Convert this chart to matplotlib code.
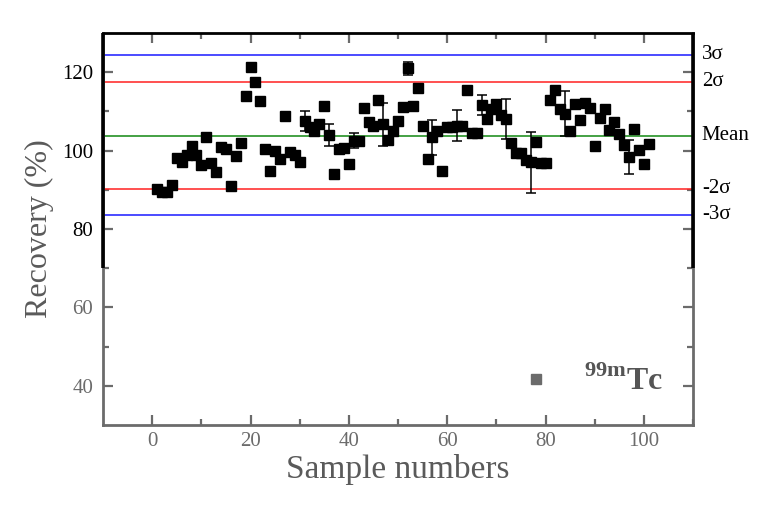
import matplotlib
matplotlib.use("Agg")
import matplotlib.pyplot as plt
from matplotlib.lines import Line2D
import matplotlib.transforms as mtransforms

plt.rcParams['font.family'] = ['Liberation Serif', 'DejaVu Serif']
plt.rcParams['mathtext.fontset'] = 'custom'
plt.rcParams['mathtext.rm'] = 'Liberation Serif'
plt.rcParams['mathtext.bf'] = 'Liberation Serif:bold'

# ---- data ----
samples = list(range(1, 102))
recovery = [90.2, 89.4, 89.4, 91.3, 98.1, 97.2, 98.9, 101.3, 98.9, 96.4,
            103.5, 96.8, 94.5, 100.9, 100.4, 91.0, 98.7, 101.9, 113.9, 121.3,
            117.4, 112.6, 100.5, 94.8, 99.9, 97.9, 108.8, 99.6, 98.9, 97.0,
            107.6, 105.9, 105.0, 106.7, 111.5, 104.0, 94.1, 100.4, 100.6, 96.6,
            102.5, 102.5, 110.8, 107.2, 106.2, 112.9, 106.7, 102.7, 104.9, 107.5,
            111.1, 121.0, 111.5, 115.9, 106.4, 97.8, 103.4, 105.0, 94.7, 105.9,
            106.1, 106.4, 106.3, 115.5, 104.4, 104.4, 111.7, 108.0, 110.6, 111.9,
            109.1, 108.0, 101.9, 99.4, 99.5, 97.6, 97.0, 102.1, 96.8, 96.8,
            112.9, 115.5, 110.6, 109.4, 104.9, 111.8, 107.8, 112.1, 110.8, 101.2,
            108.3, 110.6, 105.3, 107.4, 104.2, 101.5, 98.3, 105.5, 100.2, 96.6,
            101.7]
err_samples = [31, 36, 41, 47, 52, 57, 62, 67, 72, 77, 84, 97]
err_values = [2.55, 2.7, 1.9, 5.5, 1.7, 4.5, 4.0, 2.5, 5.1, 7.8, 5.7, 4.3]

limit_labels = ['3σ', '2σ', 'Mean', '-2σ', '-3σ']
limit_values = [124.4, 117.5, 103.8, 90.3, 83.6]
limit_colors = ['#1a1aff', '#ff2020', '#118811', '#ff2020', '#1a1aff']

x_ticks = [0, 20, 40, 60, 80, 100]
x_minor = [10, 30, 50, 70, 90, 110]
y_ticks = [40, 60, 80, 100, 120]
y_minor = [50, 70, 90, 110]

GRAY = '#6b6b6b'

fig = plt.figure(figsize=(7.57, 5.08), dpi=100)
ax = fig.add_axes([103/757, 1-425/508, 590/757, 392/508])
ax.set_xlim(-10, 110)
ax.set_ylim(30, 130)

blend = mtransforms.blended_transform_factory(ax.transAxes, ax.transData)
for lab, val, col in zip(limit_labels, limit_values, limit_colors):
    ax.axhline(val, color=col, lw=1.1, zorder=2)
    ax.text(1.015, val, lab, transform=blend, va='center', ha='left',
            fontsize=15, color='black', clip_on=False)

ax.plot(samples, recovery, ls='none', marker='s', ms=7, color='black', zorder=4)
err_y = [recovery[samples.index(s)] for s in err_samples]
ax.errorbar(err_samples, err_y, yerr=err_values, fmt='none', ecolor='black',
            elinewidth=1.1, capsize=3.8, capthick=1.1, zorder=3)

# spines
for s in ax.spines.values():
    s.set_color(GRAY)
    s.set_linewidth(2)
ax.spines['top'].set_color('black')
for xa in (0, 1):
    ax.add_line(Line2D([xa, xa], [70, 130], transform=blend, color='black', lw=2.6,
                       clip_on=False, zorder=5, solid_capstyle='butt'))

ax.set_xticks(x_ticks)
ax.set_xticks(x_minor, minor=True)
ax.set_yticks(y_ticks)
ax.set_yticks(y_minor, minor=True)
ax.tick_params(which='both', direction='in', top=True, right=True, width=1.6, colors=GRAY,
               labelsize=15)
ax.tick_params(which='major', length=7, pad=7)
ax.tick_params(axis='x', which='major', pad=5)
ax.tick_params(which='minor', length=4)

# colour ticks: black upper part
for v, t in zip(y_ticks, ax.yaxis.get_major_ticks()):
    if v >= 70:
        t.tick1line.set_color('black')
        t.tick2line.set_color('black')
        t.label1.set_color('black')
for v, t in zip(y_minor, ax.yaxis.get_minor_ticks()):
    if v >= 70:
        t.tick1line.set_color('black')
        t.tick2line.set_color('black')
for t in ax.xaxis.get_major_ticks() + ax.xaxis.get_minor_ticks():
    t.tick2line.set_color('black')

ax.set_xlabel('Sample numbers', fontsize=24, color='#5a5a5a', labelpad=2)
ax.set_ylabel('Recovery (%)', fontsize=23, color='#5a5a5a', labelpad=6)

handle = Line2D([], [], ls='none', marker='s', ms=7, color=GRAY)
leg = ax.legend([handle], [r'$^{\mathbf{99m}}\mathbf{Tc}$'], loc='lower right',
                bbox_to_anchor=(0.976, 0.03), frameon=False, fontsize=23,
                borderpad=0, handlelength=1.0, handletextpad=1.0,
                labelcolor='#555555')

fig.savefig('out.png', dpi=100)
